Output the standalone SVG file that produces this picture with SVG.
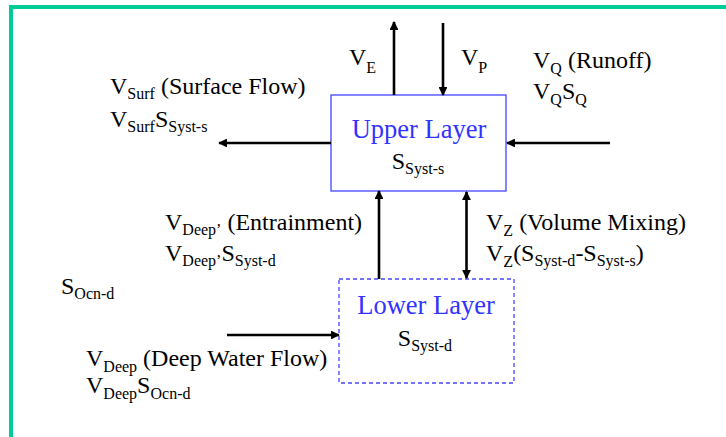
<svg xmlns="http://www.w3.org/2000/svg" width="726" height="437" viewBox="0 0 726 437" font-family="Liberation Serif, Times New Roman, serif">
<style>
text{font-family:'Liberation Serif','Times New Roman',serif}
.t{font-size:24px;fill:#000}
.s{font-size:16px}
.b{font-size:26.5px;fill:#3333ff}
.a{stroke:#000;stroke-width:2.6;fill:none}
</style>
<defs>
<marker id="ah" viewBox="0 0 10 10" refX="9" refY="5" markerWidth="3.6" markerHeight="3.4" orient="auto-start-reverse" markerUnits="strokeWidth">
<path d="M0,0 L10,5 L0,10 z" fill="#000"/>
</marker>
</defs>
<rect width="726" height="437" fill="#fff"/>
<path d="M11,437 V7 H726" fill="none" stroke="#00cc99" stroke-width="4"/>

<g id="upper-layer">
<rect x="331" y="95" width="175" height="96" fill="#fff" stroke="#4444ff" stroke-width="1.3"/>
<text class="b" x="419" y="138" text-anchor="middle">Upper Layer</text>
<text class="t" x="418" y="169" text-anchor="middle">S<tspan class="s" dy="5">Syst-s</tspan></text>
</g>

<g id="lower-layer">
<rect x="339" y="279" width="175" height="104" fill="#fff" stroke="#4444ff" stroke-width="1.3" stroke-dasharray="4,3"/>
<text class="b" x="426" y="314" text-anchor="middle">Lower Layer</text>
<text class="t" x="425" y="346" text-anchor="middle">S<tspan class="s" dy="5">Syst-d</tspan></text>
</g>

<g id="connectors">
<line class="a" x1="394" y1="95" x2="394" y2="22" marker-end="url(#ah)"/>
<line class="a" x1="443" y1="23" x2="443" y2="95" marker-end="url(#ah)"/>
<line class="a" x1="610" y1="143" x2="507" y2="143" marker-end="url(#ah)"/>
<line class="a" x1="331" y1="143" x2="219" y2="143" marker-end="url(#ah)"/>
<line class="a" x1="379" y1="279" x2="379" y2="191" marker-end="url(#ah)"/>
<line class="a" x1="466.5" y1="192" x2="466.5" y2="278" marker-start="url(#ah)" marker-end="url(#ah)"/>
<line class="a" x1="227" y1="335" x2="339" y2="335" marker-end="url(#ah)"/>
</g>

<g id="labels">
<text class="t" x="349" y="65">V<tspan class="s" dy="8">E</tspan></text>
<text class="t" x="461" y="65">V<tspan class="s" dy="8">P</tspan></text>
<text class="t" x="533" y="68">V<tspan class="s" dy="6">Q</tspan><tspan dy="-6"> (Runoff)</tspan></text>
<text class="t" x="533" y="99">V<tspan class="s" dy="6">Q</tspan><tspan dy="-6">S</tspan><tspan class="s" dy="6">Q</tspan></text>
<text class="t" x="110" y="94">V<tspan class="s" dy="5">Surf</tspan><tspan dy="-5"> (Surface Flow)</tspan></text>
<text class="t" x="110" y="127">V<tspan class="s" dy="5">Surf</tspan><tspan dy="-5">S</tspan><tspan class="s" dy="5">Syst-s</tspan></text>
<text class="t" x="165" y="230">V<tspan class="s" dy="5">Deep’</tspan><tspan dy="-5"> (Entrainment)</tspan></text>
<text class="t" x="165" y="261">V<tspan class="s" dy="5">Deep’</tspan><tspan dy="-5">S</tspan><tspan class="s" dy="5">Syst-d</tspan></text>
<text class="t" x="486" y="230">V<tspan class="s" dy="6">Z</tspan><tspan dy="-6"> (Volume Mixing)</tspan></text>
<text class="t" x="486" y="261">V<tspan class="s" dy="6">Z</tspan><tspan dy="-6">(S</tspan><tspan class="s" dy="5">Syst-d</tspan><tspan dy="-5">-S</tspan><tspan class="s" dy="5">Syst-s</tspan><tspan dy="-5">)</tspan></text>
<text class="t" x="61" y="294">S<tspan class="s" dy="5">Ocn-d</tspan></text>
<text class="t" x="86" y="366">V<tspan class="s" dy="6">Deep</tspan><tspan dy="-6"> (Deep Water Flow)</tspan></text>
<text class="t" x="86" y="393">V<tspan class="s" dy="6">Deep</tspan><tspan dy="-6">S</tspan><tspan class="s" dy="6">Ocn-d</tspan></text>
</g>
</svg>
